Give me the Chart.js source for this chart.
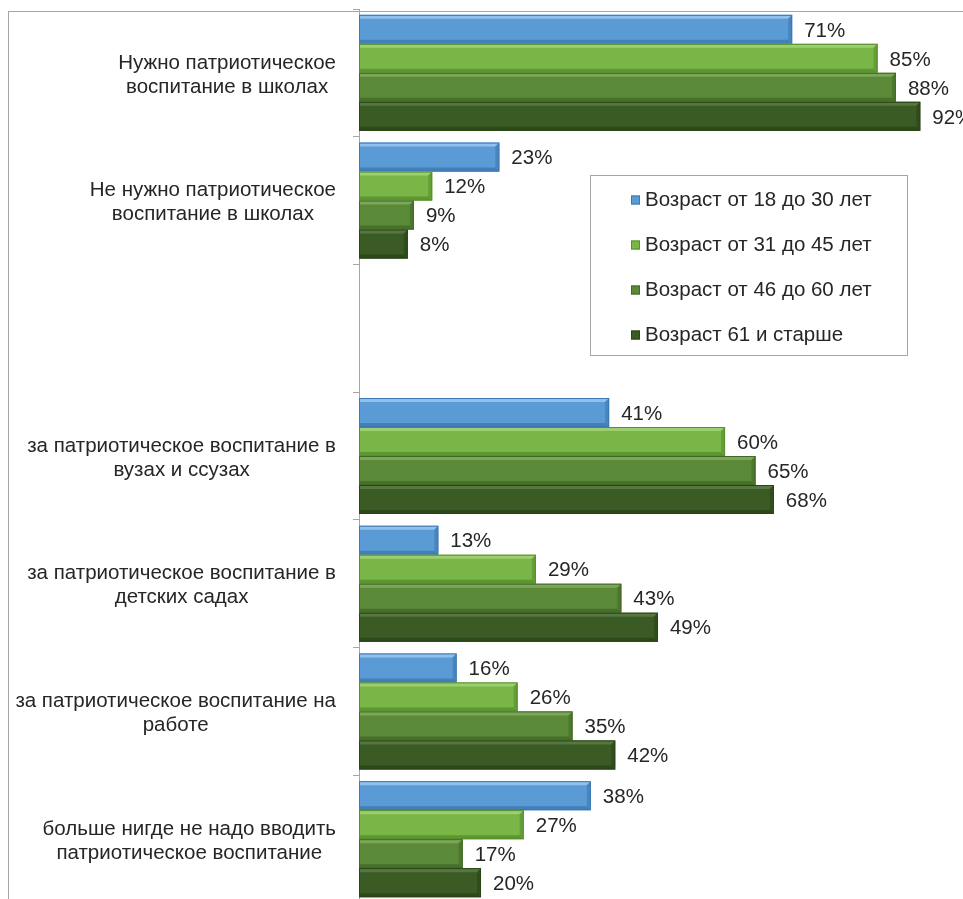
<!DOCTYPE html>
<html>
<head>
<meta charset="utf-8">
<script src="https://cdn.jsdelivr.net/npm/chart.js@4/dist/chart.umd.min.js"></script>
<style>
  html, body { margin: 0; padding: 0; background: #fff; overflow: hidden; width: 963px; height: 899px; }
  #frame { position: absolute; left: 8px; top: 11px; width: 960px; height: 900px; border-left: 1px solid #a6a6a6; border-top: 1px solid #a6a6a6; }
  #wrap { position: absolute; left: 0; top: 9px; width: 963px; height: 894px; }
</style>
</head>
<body>
<div id="frame"></div>
<div id="wrap"><canvas id="c" width="963" height="894"></canvas></div>
<script>
const categories = [
  ["Нужно патриотическое", "воспитание в школах"],
  ["Не нужно патриотическое", "воспитание в школах"],
  [""],
  ["за патриотическое воспитание в", "вузах и ссузах"],
  ["за патриотическое воспитание в", "детских садах"],
  ["за патриотическое воспитание на", "работе"],
  ["больше нигде не надо вводить", "патриотическое воспитание"]
];
const seriesNames = ["Возраст от 18 до 30 лет", "Возраст от 31 до 45 лет", "Возраст от 46 до 60 лет", "Возраст 61 и старше"];
const age18to30 = [71, 23, null, 41, 13, 16, 38];
const age31to45 = [85, 12, null, 60, 29, 26, 27];
const age46to60 = [88, 9, null, 65, 43, 35, 17];
const age61plus = [92, 8, null, 68, 49, 42, 20];

const fills = ["#5b9bd5", "#79b547", "#5a8a37", "#3b5b24"];
const lights = ["#9ecaf1", "#a5d67a", "#84ad62", "#5f7e48"];
const darks = ["#3d78b0", "#578f2c", "#426a27", "#2a4419"];
const FONT = '20.5px "Liberation Sans", Arial, sans-serif';

const bevelPlugin = {
  id: 'bevel',
  afterDatasetsDraw(chart) {
    const ctx = chart.ctx;
    chart.data.datasets.forEach((ds, di) => {
      const meta = chart.getDatasetMeta(di);
      meta.data.forEach((bar, i) => {
        if (ds.data[i] == null) return;
        const p = bar.getProps(['x', 'y', 'base', 'height'], true);
        const x0 = p.base, x1 = p.x, y0 = p.y - p.height / 2, y1 = p.y + p.height / 2;
        const b = 4;
        ctx.save();
        ctx.fillStyle = lights[di];
        ctx.beginPath();
        ctx.moveTo(x0, y0); ctx.lineTo(x1, y0); ctx.lineTo(x1 - b, y0 + b); ctx.lineTo(x0, y0 + b); ctx.closePath();
        ctx.globalAlpha = 0.8; ctx.fill();
        ctx.fillStyle = darks[di];
        ctx.beginPath();
        ctx.moveTo(x0, y1); ctx.lineTo(x1, y1); ctx.lineTo(x1 - b, y1 - b); ctx.lineTo(x0, y1 - b); ctx.closePath();
        ctx.globalAlpha = 0.8; ctx.fill();
        ctx.beginPath();
        ctx.moveTo(x1, y0); ctx.lineTo(x1, y1); ctx.lineTo(x1 - b, y1 - b); ctx.lineTo(x1 - b, y0 + b); ctx.closePath();
        ctx.globalAlpha = 0.6; ctx.fill();
        ctx.globalAlpha = 1;
        ctx.strokeStyle = darks[di];
        ctx.lineWidth = 1;
        ctx.strokeRect(x0 + 0.5, y0 + 0.5, x1 - x0 - 1, y1 - y0 - 1);
        ctx.restore();
      });
    });
  },
  afterDraw(chart) {
    const ctx = chart.ctx;
    ctx.save();
    ctx.font = FONT;
    ctx.fillStyle = '#262626';
    ctx.textBaseline = 'middle';
    chart.data.datasets.forEach((ds, di) => {
      const meta = chart.getDatasetMeta(di);
      meta.data.forEach((bar, i) => {
        const v = ds.data[i];
        if (v == null) return;
        ctx.textAlign = 'left';
        ctx.fillText(v + '%', bar.x + 12, bar.y + 1.5);
      });
    });
    const ys = chart.scales.y;
    categories.forEach((lines, i) => {
      const cy = ys.getPixelForValue(i);
      let maxW = 0;
      lines.forEach(l => { maxW = Math.max(maxW, ctx.measureText(l).width); });
      const cx = 336 - maxW / 2;
      const lh = 24;
      const start = cy - (lines.length - 1) * lh / 2 + 2;
      ctx.textAlign = 'center';
      lines.forEach((l, k) => ctx.fillText(l, cx, start + k * lh));
    });
    const lx = 590.5, ly = 166.5, lw = 317, lhgt = 180;
    ctx.strokeStyle = '#a6a6a6';
    ctx.lineWidth = 1;
    ctx.strokeRect(lx, ly, lw, lhgt);
    chart.data.datasets.forEach((ds, di) => {
      const y = ly + 24 + di * 45;
      ctx.fillStyle = fills[di];
      ctx.fillRect(631, y - 4, 9, 9);
      ctx.strokeStyle = darks[di];
      ctx.strokeRect(631.5, y - 3.5, 8, 8);
      ctx.fillStyle = '#262626';
      ctx.textAlign = 'left';
      ctx.fillText(ds.label, 645, y + 1);
    });
    ctx.restore();
  }
};

const seriesData = [age18to30, age31to45, age46to60, age61plus];
new Chart(document.getElementById('c'), {
  type: 'bar',
  data: {
    labels: categories,
    datasets: seriesData.map((d, i) => ({
      label: seriesNames[i],
      data: d,
      backgroundColor: fills[i],
      borderWidth: 0,
      categoryPercentage: 0.908,
      barPercentage: 1.0
    }))
  },
  options: {
    indexAxis: 'y',
    responsive: false,
    animation: false,
    layout: { padding: 0 },
    plugins: { legend: { display: false }, tooltip: { enabled: false } },
    scales: {
      x: { display: false, min: 0, max: 99 },
      y: {
        ticks: { display: false },
        grid: { display: true, drawOnChartArea: false, drawTicks: true, tickLength: 6, offset: true, color: '#a6a6a6' },
        border: { display: true, color: '#a6a6a6' },
        afterFit(s) { s.width = 359; }
      }
    }
  },
  plugins: [bevelPlugin]
});
</script>
</body>
</html>
